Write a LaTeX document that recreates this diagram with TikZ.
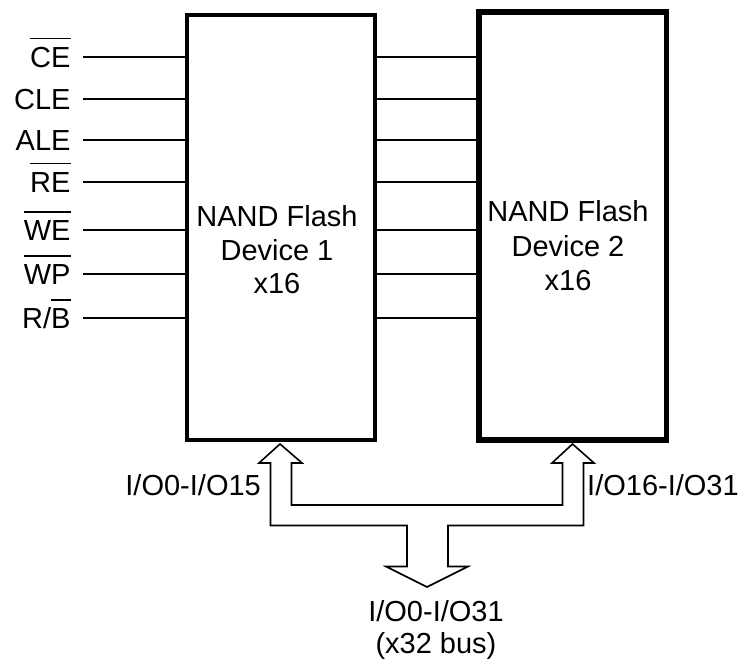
\documentclass[tikz,border=0pt]{standalone}
\usepackage{fontspec}
\setmainfont{Liberation Sans}
\newcommand{\ovl}[1]{\leavevmode\vbox{\hrule height 1.3pt\kern 8pt\hbox{#1}}}
\begin{document}
\begin{tikzpicture}[x=1pt,y=-1pt,
  txt/.style={font=\fontsize{29}{34}\selectfont, inner sep=0pt},
  sig/.style={line width=2pt},
  dev/.style={draw, inner sep=0pt}]
\useasboundingbox (0,0) rectangle (739,671);
% devices
\node[dev, line width=4.5pt, minimum width=188pt, minimum height=425pt] (d1) at (281,227.5) {};
\node[dev, line width=5.5pt, minimum width=187.5pt, minimum height=428pt] (d2) at (572.75,226) {};
% device texts
\node[txt, anchor=base] (d1a) at (277,226.5) {NAND Flash};
\node[txt, anchor=base] (d1b) at (277,260) {Device 1};
\node[txt, anchor=base] (d1c) at (277,293.5) {x16};
\node[txt, anchor=base] (d2a) at (568,222) {NAND Flash};
\node[txt, anchor=base] (d2b) at (568,256) {Device 2};
\node[txt, anchor=base] (d2c) at (568,290) {x16};
% signals
\foreach \n/\y/\t in {ce/56.7/{\ovl{CE}}, cle/99/{CLE}, ale/140/{ALE}, re/181.7/{\ovl{RE}}, we/230/{\ovl{WE}}, wp/274/{\ovl{WP}}, rb/318/{R/\ovl{B}}}{
  \coordinate (\n) at (83,\y);
  \node[txt, anchor=base east] (l\n) at (70.7,\y+10.5) {\t};
  \draw[sig] (\n) -- (\n -| d1.west);
  \draw[sig] (\n -| d1.east) -- (\n -| d2.west);
}
% bus
\draw[line width=1.6pt, line join=miter]
  (280,444) -- (302,463) -- (291.5,463) -- (291.5,505) -- (562.5,505) -- (562.5,463)
  -- (552,463) -- (572.5,444) -- (594,463) -- (583.5,463) -- (583.5,525.5)
  -- (448,525.5) -- (448,566.5) -- (468,566.5) -- (427,587) -- (386,566.5)
  -- (407,566.5) -- (407,525.5) -- (270.5,525.5) -- (270.5,463) -- (259,463) -- cycle;
% bus labels
\node[txt, anchor=base east] (io1) at (261,495) {I/O0-I/O15};
\node[txt, anchor=base west] (io2) at (587,495) {I/O16-I/O31};
\node[txt, anchor=base] (io3) at (436,621.7) {I/O0-I/O31};
\node[txt, anchor=base] (io4) at (436,653) {(x32 bus)};
\end{tikzpicture}
\end{document}
